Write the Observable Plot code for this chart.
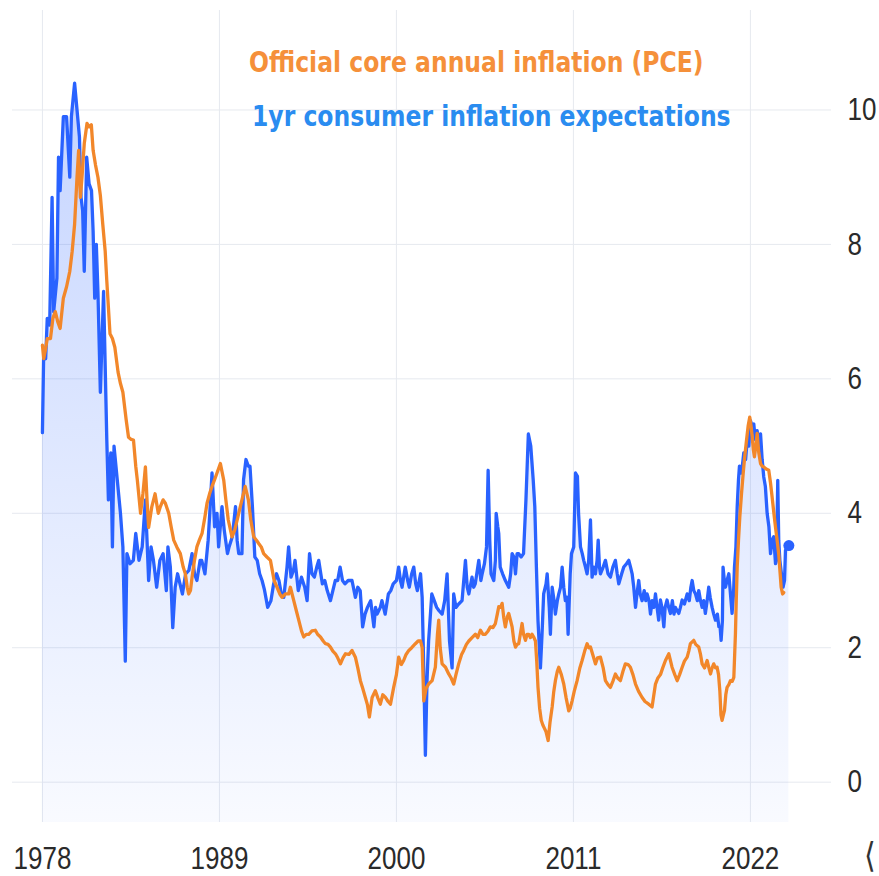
<!DOCTYPE html>
<html><head><meta charset="utf-8">
<script src="https://cdn.jsdelivr.net/npm/d3@7"></script>
<script src="https://cdn.jsdelivr.net/npm/@observablehq/plot@0.6"></script>
<style>
body{margin:0;background:#fff;}
#wrap{position:relative;width:879px;height:876px;overflow:hidden;background:#fff;}
.leg{position:absolute;font-family:"DejaVu Sans";font-weight:bold;font-size:23.5px;white-space:nowrap;transform-origin:0 0;transform:scaleY(1.18);line-height:1;}
.nav{position:absolute;left:864px;top:838px;font-family:"DejaVu Sans";font-size:30px;line-height:1;color:#333;transform-origin:0 0;transform:scaleY(1.15);}
</style></head><body><div id="wrap"></div>
<script>
// 1yr consumer inflation expectations [decimal year, %]
const expectations = [
[1978.0,5.2],[1978.08,6.4],[1978.2,6.3],[1978.3,6.9],[1978.45,6.8],[1978.6,8.7],[1978.7,7.0],[1978.9,7.5],[1979.0,9.3],[1979.1,8.8],[1979.3,9.9],[1979.5,9.9],[1979.7,9.0],[1979.8,9.9],
[1980.0,10.4],[1980.15,10.0],[1980.3,9.6],[1980.4,8.7],[1980.5,8.5],[1980.6,7.6],[1980.75,9.3],[1980.9,8.9],[1981.05,8.8],[1981.15,8.2],[1981.25,7.2],[1981.35,8.0],[1981.45,7.3],[1981.6,5.8],[1981.8,7.3],
[1982.0,5.1],[1982.1,4.2],[1982.25,4.9],[1982.35,3.5],[1982.45,5.0],[1982.65,4.5],[1982.85,4.0],[1983.0,3.5],[1983.15,1.8],[1983.25,3.4],[1983.45,3.25],[1983.65,3.3],[1983.8,3.7],
[1984.0,3.3],[1984.2,3.5],[1984.4,4.2],[1984.6,3.0],[1984.75,3.5],[1984.9,3.3],[1985.1,2.9],[1985.3,3.3],[1985.5,3.4],[1985.7,2.85],[1985.8,3.5],[1985.95,3.2],
[1986.1,2.3],[1986.25,2.9],[1986.4,3.1],[1986.55,2.95],[1986.7,2.8],[1986.9,3.1],[1987.1,3.15],[1987.3,3.4],[1987.45,3.1],[1987.6,3.0],[1987.8,3.3],[1987.9,3.3],
[1988.1,3.1],[1988.3,3.6],[1988.4,4.0],[1988.54,4.6],[1988.7,3.8],[1988.85,4.0],[1988.95,3.5],[1989.16,4.1],[1989.3,3.75],[1989.5,3.4],[1989.6,3.5],[1989.8,3.65],
[1990.0,4.1],[1990.1,3.6],[1990.2,3.4],[1990.4,3.4],[1990.5,4.5],[1990.65,4.8],[1990.8,4.7],[1990.9,4.7],[1991.05,4.1],[1991.2,3.35],[1991.35,3.3],[1991.5,3.1],[1991.65,3.0],[1991.8,2.86],
[1992.0,2.6],[1992.2,2.7],[1992.37,2.95],[1992.55,3.1],[1992.7,3.0],[1992.85,2.8],[1993.0,2.75],[1993.2,3.2],[1993.3,3.5],[1993.45,3.05],[1993.6,3.15],[1993.7,3.3],[1993.9,2.85],
[1994.1,3.05],[1994.3,2.9],[1994.45,2.7],[1994.6,3.4],[1994.75,3.1],[1994.9,3.05],[1995.05,3.2],[1995.17,3.3],[1995.3,3.1],[1995.4,2.95],[1995.55,3.0],[1995.7,2.85],[1995.9,2.7],
[1996.05,2.85],[1996.2,3.0],[1996.35,3.0],[1996.5,3.2],[1996.65,3.0],[1996.8,2.95],[1997.0,3.0],[1997.24,3.0],[1997.45,2.75],[1997.6,2.9],[1997.75,2.85],[1997.9,2.31],
[1998.05,2.5],[1998.2,2.6],[1998.4,2.7],[1998.6,2.31],[1998.7,2.6],[1998.8,2.5],[1999.0,2.6],[1999.1,2.7],[1999.3,2.5],[1999.5,2.8],[1999.65,2.85],[1999.8,2.95],
[2000.0,3.0],[2000.14,3.2],[2000.25,3.0],[2000.35,2.9],[2000.55,3.2],[2000.7,3.0],[2000.8,2.9],[2000.95,3.1],[2001.08,3.2],[2001.2,2.95],[2001.3,2.85],[2001.5,3.1],[2001.6,2.75],[2001.68,1.9],[2001.8,0.4],[2001.9,1.5],
[2002.0,2.1],[2002.2,2.8],[2002.35,2.7],[2002.5,2.6],[2002.65,2.55],[2002.84,2.5],[2003.0,2.7],[2003.15,3.1],[2003.3,2.1],[2003.46,1.7],[2003.56,2.8],[2003.7,2.6],[2003.87,2.65],
[2004.08,2.7],[2004.29,3.3],[2004.4,2.9],[2004.5,2.8],[2004.7,3.05],[2004.8,2.9],[2004.9,2.95],[2005.12,3.3],[2005.25,3.0],[2005.33,3.1],[2005.47,3.25],[2005.6,3.5],[2005.7,4.64],[2005.8,3.6],[2005.88,3.1],
[2006.05,3.0],[2006.15,3.3],[2006.2,4.0],[2006.3,3.8],[2006.36,3.7],[2006.45,3.2],[2006.6,3.1],[2006.77,3.0],[2006.98,2.9],[2007.1,3.1],[2007.19,3.4],[2007.3,3.35],[2007.4,3.1],[2007.5,3.4],[2007.6,3.4],[2007.75,3.35],[2007.9,3.4],
[2008.05,4.2],[2008.2,5.18],[2008.35,5.0],[2008.5,4.5],[2008.6,4.1],[2008.7,3.2],[2008.8,2.4],[2008.95,1.7],[2009.05,2.2],[2009.15,2.8],[2009.3,2.95],[2009.37,3.1],[2009.5,2.6],[2009.57,2.2],[2009.68,2.9],[2009.8,2.7],[2009.88,2.5],
[2010.0,2.7],[2010.09,2.8],[2010.2,2.9],[2010.3,3.2],[2010.4,2.9],[2010.5,2.7],[2010.6,2.75],[2010.67,2.2],[2010.8,3.1],[2010.88,3.4],[2011.02,3.5],[2011.13,4.6],[2011.25,4.55],[2011.32,4.0],[2011.44,3.5],[2011.55,3.4],[2011.64,3.3],[2011.75,3.2],[2011.85,3.1],[2011.95,3.3],
[2012.06,3.9],[2012.16,3.05],[2012.25,3.2],[2012.37,3.1],[2012.47,3.3],[2012.54,3.6],[2012.62,3.2],[2012.68,3.1],[2012.85,3.2],[2012.99,3.3],[2013.15,3.1],[2013.3,3.05],[2013.45,3.2],[2013.61,3.3],[2013.72,3.1],[2013.82,2.95],
[2014.0,3.1],[2014.13,3.2],[2014.3,3.25],[2014.44,3.3],[2014.55,3.2],[2014.65,3.1],[2014.75,2.9],[2014.86,2.6],[2014.95,2.8],[2015.06,3.0],[2015.15,2.8],[2015.27,2.7],[2015.4,2.85],[2015.5,2.7],[2015.58,2.8],[2015.7,2.7],[2015.79,2.5],[2015.9,2.7],
[2016.0,2.6],[2016.1,2.8],[2016.2,2.6],[2016.3,2.41],[2016.41,2.71],[2016.5,2.6],[2016.62,2.31],[2016.7,2.6],[2016.82,2.71],[2016.92,2.6],[2017.03,2.51],[2017.15,2.7],[2017.25,2.5],[2017.34,2.6],[2017.45,2.55],[2017.55,2.51],[2017.65,2.6],[2017.76,2.71],[2017.9,2.65],
[2018.07,2.8],[2018.2,2.7],[2018.3,2.9],[2018.38,3.0],[2018.48,2.85],[2018.59,2.8],[2018.7,2.7],[2018.79,2.85],[2018.9,2.7],[2019.0,2.6],[2019.1,2.7],[2019.2,2.51],[2019.31,2.7],[2019.41,2.9],[2019.5,2.75],[2019.62,2.6],[2019.72,2.5],[2019.83,2.41],[2019.95,2.5],
[2020.04,2.31],[2020.12,2.3],[2020.18,2.11],[2020.26,2.4],[2020.3,3.2],[2020.38,3.0],[2020.45,2.9],[2020.55,3.0],[2020.66,3.1],[2020.76,2.8],[2020.86,2.51],[2020.95,2.8],
[2021.01,3.2],[2021.1,3.5],[2021.18,4.1],[2021.26,4.5],[2021.32,4.7],[2021.45,4.6],[2021.59,4.9],[2021.7,4.8],[2021.8,5.09],[2021.9,5.0],[2022.0,5.38],[2022.1,5.3],[2022.21,5.33],[2022.3,5.1],[2022.42,5.23],[2022.52,5.0],[2022.63,5.18],[2022.73,4.8],[2022.83,4.54],[2022.93,4.4],
[2023.04,4.0],[2023.15,3.8],[2023.25,3.4],[2023.35,3.6],[2023.45,3.65],[2023.56,3.25],[2023.62,3.3],[2023.7,4.49],[2023.76,3.6],[2023.83,3.3],[2023.93,3.1],[2024.03,2.9],[2024.12,3.0],[2024.18,3.45],[2024.3,3.5],[2024.39,3.52]
];

// Official core annual inflation (PCE) [decimal year, %]
const corePCE = [
[1978.0,6.5],[1978.08,6.3],[1978.2,6.45],[1978.3,6.6],[1978.5,6.6],[1978.65,6.9],[1978.8,7.0],[1978.95,6.85],[1979.1,6.75],[1979.3,7.2],[1979.5,7.37],[1979.7,7.6],[1979.85,7.9],
[1980.0,8.3],[1980.15,9.0],[1980.25,9.4],[1980.36,8.7],[1980.46,9.0],[1980.6,9.5],[1980.77,9.8],[1980.9,9.75],[1981.04,9.78],[1981.15,9.4],[1981.3,9.18],[1981.45,9.0],[1981.6,8.73],[1981.75,8.3],[1981.9,7.9],
[1982.0,7.46],[1982.2,6.67],[1982.35,6.6],[1982.5,6.47],[1982.7,6.1],[1982.85,5.93],[1983.0,5.8],[1983.2,5.4],[1983.35,5.13],[1983.5,5.1],[1983.66,5.09],[1983.8,4.7],[1983.9,4.49],
[1984.1,4.0],[1984.25,4.3],[1984.4,4.69],[1984.5,4.2],[1984.6,3.79],[1984.8,4.1],[1985.0,4.29],[1985.2,4.0],[1985.33,4.1],[1985.5,4.2],[1985.64,4.15],[1985.85,4.0],
[1986.0,3.8],[1986.16,3.6],[1986.35,3.5],[1986.57,3.4],[1986.75,3.2],[1986.88,3.1],[1987.0,2.9],[1987.09,2.8],[1987.2,2.85],[1987.3,3.05],[1987.45,3.3],[1987.6,3.5],[1987.75,3.6],[1987.92,3.7],
[1988.1,3.95],[1988.23,4.15],[1988.4,4.3],[1988.54,4.4],[1988.7,4.5],[1988.85,4.6],[1989.06,4.74],[1989.27,4.49],[1989.4,4.2],[1989.55,3.9],[1989.78,3.65],[1989.95,3.75],
[1990.1,3.9],[1990.25,4.05],[1990.4,4.2],[1990.6,4.4],[1990.8,4.2],[1990.95,3.9],[1991.13,3.65],[1991.3,3.6],[1991.44,3.55],[1991.6,3.5],[1991.75,3.4],[1991.95,3.35],
[1992.17,3.3],[1992.4,3.0],[1992.58,2.9],[1992.75,2.8],[1992.89,2.75],[1993.1,2.8],[1993.3,2.8],[1993.41,2.9],[1993.62,2.7],[1993.78,2.55],[1993.93,2.41],
[1994.1,2.25],[1994.24,2.16],[1994.4,2.2],[1994.55,2.2],[1994.75,2.25],[1994.96,2.26],[1995.1,2.2],[1995.28,2.16],[1995.45,2.1],[1995.59,2.06],[1995.75,2.05],[1995.9,2.01],
[1996.05,1.95],[1996.21,1.91],[1996.35,1.85],[1996.52,1.76],[1996.68,1.85],[1996.83,1.91],[1997.05,1.9],[1997.24,1.96],[1997.45,1.86],[1997.6,1.7],[1997.76,1.51],[1997.9,1.4],
[1998.07,1.26],[1998.2,1.15],[1998.32,0.97],[1998.49,1.26],[1998.69,1.36],[1998.85,1.25],[1999.0,1.16],[1999.15,1.3],[1999.32,1.26],[1999.48,1.2],[1999.63,1.16],[1999.83,1.41],
[2000.0,1.6],[2000.14,1.86],[2000.3,1.75],[2000.45,1.81],[2000.6,1.9],[2000.77,1.96],[2000.95,2.0],[2001.18,2.06],[2001.35,2.1],[2001.5,2.1],[2001.6,2.0],[2001.7,1.21],[2001.85,1.4],
[2002.0,1.46],[2002.22,1.51],[2002.42,1.71],[2002.55,2.2],[2002.63,2.41],[2002.72,2.0],[2002.84,1.76],[2003.05,1.71],[2003.25,1.61],[2003.4,1.55],[2003.56,1.46],[2003.7,1.6],[2003.87,1.76],
[2004.05,1.9],[2004.18,1.96],[2004.35,2.05],[2004.5,2.1],[2004.7,2.15],[2004.91,2.2],[2005.05,2.15],[2005.22,2.26],[2005.38,2.2],[2005.53,2.2],[2005.7,2.25],[2005.84,2.31],
[2006.0,2.3],[2006.15,2.36],[2006.27,2.5],[2006.36,2.61],[2006.47,2.6],[2006.57,2.66],[2006.67,2.45],[2006.77,2.31],[2006.88,2.45],[2006.98,2.51],[2007.1,2.4],[2007.19,2.31],[2007.3,2.1],[2007.4,2.01],[2007.5,2.05],[2007.6,2.06],[2007.7,2.2],[2007.81,2.36],[2007.9,2.2],
[2008.02,2.11],[2008.12,2.2],[2008.22,2.2],[2008.33,2.15],[2008.43,2.2],[2008.55,2.15],[2008.64,2.1],[2008.72,1.8],[2008.8,1.41],[2008.9,1.1],[2009.0,0.92],[2009.1,0.85],[2009.2,0.8],[2009.3,0.75],[2009.43,0.62],[2009.55,0.9],[2009.68,1.12],[2009.78,1.35],[2009.88,1.51],
[2010.0,1.65],[2010.09,1.71],[2010.25,1.6],[2010.4,1.46],[2010.55,1.25],[2010.71,1.06],[2010.8,1.1],[2010.92,1.21],[2011.05,1.35],[2011.23,1.51],[2011.4,1.7],[2011.54,1.81],[2011.7,1.95],[2011.85,2.06],[2011.95,2.0],
[2012.06,2.01],[2012.2,1.9],[2012.37,1.76],[2012.5,1.85],[2012.68,1.86],[2012.85,1.7],[2012.99,1.51],[2013.15,1.45],[2013.3,1.41],[2013.45,1.5],[2013.61,1.61],[2013.75,1.55],[2013.92,1.51],
[2014.08,1.65],[2014.23,1.76],[2014.4,1.75],[2014.54,1.71],[2014.7,1.6],[2014.86,1.46],[2015.05,1.35],[2015.27,1.26],[2015.45,1.2],[2015.68,1.16],[2015.89,1.12],
[2016.0,1.3],[2016.1,1.46],[2016.25,1.55],[2016.41,1.6],[2016.55,1.7],[2016.72,1.81],[2016.93,1.91],[2017.13,1.71],[2017.3,1.6],[2017.45,1.51],[2017.6,1.6],[2017.76,1.71],[2017.9,1.8],
[2018.07,1.86],[2018.17,1.95],[2018.27,2.06],[2018.48,2.11],[2018.6,2.05],[2018.79,2.01],[2018.9,1.9],[2019.0,1.76],[2019.15,1.7],[2019.31,1.81],[2019.42,1.7],[2019.52,1.61],[2019.62,1.7],[2019.72,1.76],[2019.83,1.7],[2019.93,1.71],
[2020.02,1.6],[2020.1,1.36],[2020.17,1.0],[2020.24,0.92],[2020.32,1.0],[2020.39,1.07],[2020.47,1.3],[2020.55,1.41],[2020.66,1.45],[2020.76,1.51],[2020.87,1.5],[2020.97,1.56],
[2021.07,2.21],[2021.12,2.7],[2021.18,3.2],[2021.26,3.6],[2021.34,3.94],[2021.45,4.3],[2021.55,4.59],[2021.65,4.85],[2021.76,5.09],[2021.86,5.3],[2021.96,5.43],
[2022.04,5.3],[2022.11,5.14],[2022.18,4.95],[2022.25,4.84],[2022.34,5.0],[2022.42,5.19],[2022.52,4.9],[2022.63,4.74],[2022.73,4.7],[2022.83,4.69],[2022.98,4.66],
[2023.14,4.64],[2023.25,4.45],[2023.35,4.24],[2023.46,4.0],[2023.56,3.79],[2023.66,3.6],[2023.76,3.39],[2023.85,3.1],[2023.91,2.9],[2024.0,2.8],[2024.07,2.82]
];

const xTicks = [1978, 1989, 2000, 2011, 2022];
const yTicks = [0, 2, 4, 6, 8, 10];
const legendLabels = ["Official core annual inflation (PCE)", "1yr consumer inflation expectations"];

const blue = "#2962ff", orange = "#f2872a";
const xDomain = [1976.14, 2027.04];
const yDomain = [-0.6, 11.48];

const expData = expectations.map(([year, value]) => ({year, value}));
const pceData = corePCE.map(([year, value]) => ({year, value}));

const gradientDefs = () => {
  const defs = d3.create("svg:defs");
  const lg = defs.append("linearGradient").attr("id", "areaGrad").attr("x1", 0).attr("y1", 0).attr("x2", 0).attr("y2", 1);
  lg.append("stop").attr("offset", "0%").attr("stop-color", blue).attr("stop-opacity", 0.27);
  lg.append("stop").attr("offset", "100%").attr("stop-color", blue).attr("stop-opacity", 0.03);
  return defs.node();
};

const chart = Plot.plot({
  width: 879,
  height: 876,
  marginLeft: 12,
  marginRight: 48,
  marginTop: 10,
  marginBottom: 54,
  style: {fontFamily: "Liberation Sans, Arial, sans-serif", background: "#fff", color: "#2a2a2a"},
  x: {domain: xDomain, label: null},
  y: {domain: yDomain, label: null},
  marks: [
    gradientDefs,
    Plot.gridX(xTicks, {stroke: "#e6e9ef", strokeOpacity: 1}),
    Plot.gridY(yTicks, {stroke: "#e6e9ef", strokeOpacity: 1}),
    Plot.areaY(expData, {x: "year", y1: yDomain[0], y2: "value", fill: "url(#areaGrad)"}),
    Plot.lineY(expData, {x: "year", y: "value", stroke: blue, strokeWidth: 3.3, strokeLinejoin: "round"}),
    Plot.lineY(pceData, {x: "year", y: "value", stroke: orange, strokeWidth: 3.3, strokeLinejoin: "round"}),
    Plot.dot(expData.slice(-1), {x: "year", y: "value", r: 5.5, fill: blue}),
    Plot.axisX(xTicks, {label: null, tickSize: 0, tickPadding: 24, fontSize: 26, tickFormat: d => String(d), fill: "#2a2a2a"}),
    Plot.axisY(yTicks, {label: null, anchor: "right", tickSize: 0, tickPadding: 16, fontSize: 26, tickFormat: d => String(d), fill: "#2a2a2a"})
  ]
});

// vertically stretch the tick labels to match the tall, narrow lettering
chart.querySelectorAll('g[aria-label="x-axis tick label"] text, g[aria-label="y-axis tick label"] text').forEach(t => {
  const tr = t.getAttribute("transform");
  if (tr) t.setAttribute("transform", tr + " scale(1,1.22)");
});

const wrap = document.getElementById("wrap");
wrap.appendChild(chart);

const leg1 = document.createElement("div");
leg1.className = "leg"; leg1.style.left = "249px"; leg1.style.top = "50px"; leg1.style.color = "#f5903a";
leg1.textContent = legendLabels[0];
const leg2 = document.createElement("div");
leg2.className = "leg"; leg2.style.left = "252px"; leg2.style.top = "104px"; leg2.style.color = "#2a8cf0";
leg2.textContent = legendLabels[1];
const nav = document.createElement("div");
nav.className = "nav"; nav.textContent = "⟨";
wrap.append(leg1, leg2, nav);
</script>
</body></html>
